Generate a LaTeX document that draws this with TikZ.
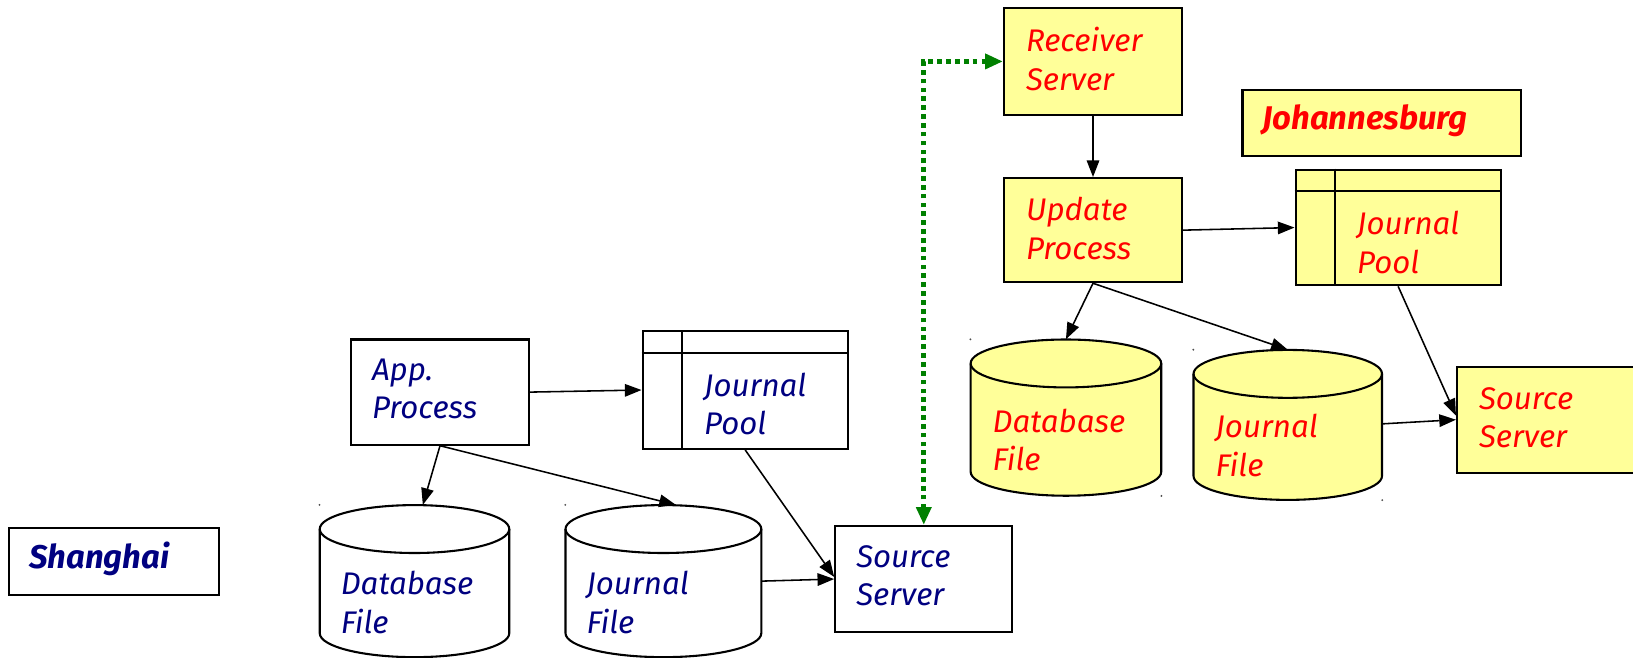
\documentclass[tikz,border=0pt]{standalone}
\usepackage{fontspec}
\setmainfont{Fira Sans}
\usetikzlibrary{arrows.meta,calc}
\definecolor{navytext}{RGB}{0,0,128}
\definecolor{paleyellow}{RGB}{255,255,153}
\definecolor{linkgreen}{RGB}{0,128,0}

% Cylinder (database drum): name, left x, right x, top y, bottom y, fill
\newcommand\drum[6]{%
  \node[inner sep=0pt, minimum width={#3-#2}, minimum height={#4-#5}] (#1) at ({(#2+#3)/2},{(#4+#5)/2}) {};
  \filldraw[fill=#6, draw=black, line width=2pt]
    (#2,{#4-23}) -- (#2,{#5+23})
    arc[start angle=180, end angle=360, x radius={(#3-#2)/2}, y radius=23]
    -- (#3,{#4-23})
    arc[start angle=0, end angle=180, x radius={(#3-#2)/2}, y radius=23] -- cycle;
  \draw[line width=2pt] (#2,{#4-23})
    arc[start angle=180, end angle=360, x radius={(#3-#2)/2}, y radius=23];
  \fill[black!70] (#1.north west) circle (1pt);
}

\begin{document}
\begin{tikzpicture}[x=1pt, y=1pt,
  panel/.style={draw=black, line width=2pt, inner sep=0pt},
  txt/.style={anchor=west, inner sep=0pt, align=left,
    font=\fontsize{30}{37}\selectfont\itshape},
  title/.style={anchor=west, inner sep=0pt,
    font=\fontsize{31.5}{37}\selectfont\bfseries\itshape},
  conn/.style={line width=1.5pt, -{Triangle[length=16pt,width=12pt]}},
  link/.style={linkgreen, line width=4.5pt, dash pattern=on 4.5pt off 4pt,
    {Triangle[length=17pt,width=14pt]}-{Triangle[length=17pt,width=14pt]}}
]
\useasboundingbox (0,0) rectangle (1568,631);

% ---------- Shanghai side ----------
\node[panel, minimum width=201pt, minimum height=64pt] (sha) at (109.5,92) {};
\node[title, text=navytext] (shaT) at (28,94) {Shanghai};

\node[panel, minimum width=171pt, minimum height=101pt] (app) at (422.5,254.5) {};
\node[txt, text=navytext] (appT) at (357,257.5) {App.\\Process};

\node[panel, minimum width=197pt, minimum height=113pt] (jpL) at (715.5,256.5) {};
\draw[line width=2pt] ($(jpL.north west)+(39,0)$) -- ($(jpL.south west)+(39,0)$);
\draw[line width=2pt] ($(jpL.north west)+(0,-22)$) -- ($(jpL.north east)+(0,-22)$);
\node[txt, text=navytext] (jpLT) at (676,243) {Journal\\Pool};

\drum{dbL}{307}{489}{146}{0}{white}
\node[txt, text=navytext] (dbLT) at (327,52.5) {Database\\File};

\drum{jfL}{543}{731}{146}{0}{white}
\node[txt, text=navytext] (jfLT) at (563,52.5) {Journal\\File};

\node[panel, minimum width=170pt, minimum height=102pt] (ssL) at (887,75) {};
\node[txt, text=navytext] (ssLT) at (822,78) {Source\\Server};

% ---------- Johannesburg side ----------
\node[panel, fill=paleyellow, minimum width=171pt, minimum height=102pt] (rcv) at (1049.5,572) {};
\node[txt, text=red] (rcvT) at (985,574.5) {Receiver\\Server};

\node[panel, fill=paleyellow, minimum width=171pt, minimum height=100pt] (upd) at (1049.5,410) {};
\node[txt, text=red] (updT) at (985,411.5) {Update\\Process};

\node[panel, fill=paleyellow, minimum width=267pt, minimum height=64pt] (jnb) at (1326.5,513) {};
\node[title, text=red] (jnbT) at (1212,515) {Johannesburg};

\node[panel, fill=paleyellow, minimum width=197pt, minimum height=111pt] (jpR) at (1342.5,412.5) {};
\draw[line width=2pt] ($(jpR.north west)+(39,0)$) -- ($(jpR.south west)+(39,0)$);
\draw[line width=2pt] ($(jpR.north west)+(0,-21)$) -- ($(jpR.north east)+(0,-21)$);
\node[txt, text=red] (jpRT) at (1303,398) {Journal\\Pool};

\drum{dbR}{932}{1115}{305}{155}{paleyellow}
\fill[black!70] (dbR.south east) circle (1pt);
\node[txt, text=red] (dbRT) at (953,208.5) {Database\\File};

\drum{jfR}{1146}{1327}{295}{151}{paleyellow}
\fill[black!70] (jfR.south east) circle (1pt);
\node[txt, text=red] (jfRT) at (1167,203) {Journal\\File};

\node[panel, fill=paleyellow, minimum width=172pt, minimum height=102pt] (ssR) at (1485,228) {};
\node[txt, text=red] (ssRT) at (1420,230) {Source\\Server};

% ---------- connectors ----------
\draw[conn] (app.east) -- (jpL.west);
\draw[conn] (app.south) -- ($(dbL.north)+(8,0)$);
\draw[conn] (app.south) -- ($(jfL.north)+(12,0)$);
\draw[conn] (jpL.south) -- ($(ssL.west)+(0,2)$);
\draw[conn] (jfL.east) -- (ssL.west);

\draw[conn] (rcv.south) -- (upd.north);
\draw[conn] (upd.east) -- (jpR.west);
\draw[conn] (upd.south) -- (dbR.north);
\draw[conn] (upd.south) -- (jfR.north);
\draw[conn] (jpR.south) -- ($(ssR.west)+(0,4)$);
\draw[conn] ($(jfR.east)+(0,1)$) -- (ssR.west);

\draw[link] (ssL.north) |- (rcv.west);
\end{tikzpicture}
\end{document}
